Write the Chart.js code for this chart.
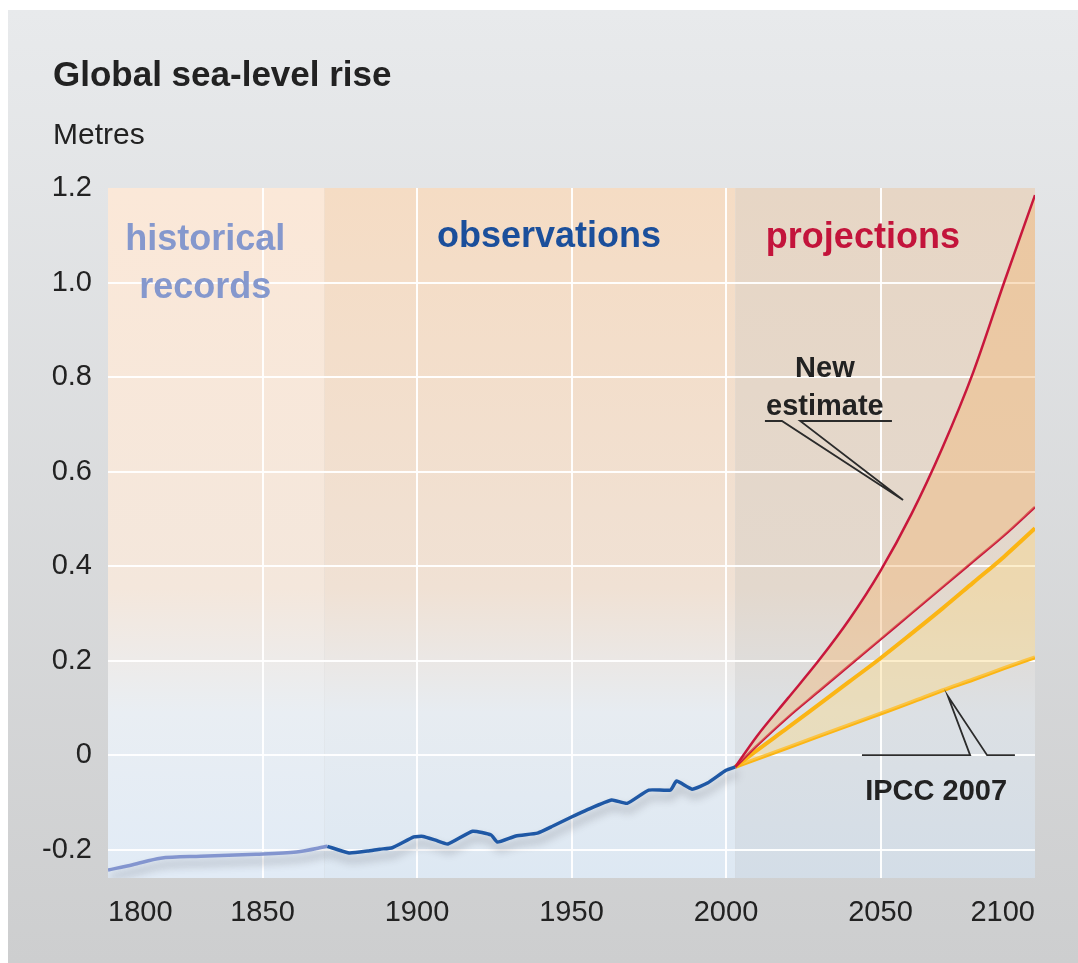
<!DOCTYPE html>
<html><head><meta charset="utf-8">
<script src="https://cdn.jsdelivr.net/npm/chart.js@4.4.1/dist/chart.umd.min.js"></script>
<style>html,body{margin:0;padding:0;background:#fff;} #wrap{width:1078px;height:963px;position:relative;}</style>
</head><body><div id="wrap"><canvas id="c"></canvas></div>
<script>
// ---- data ----
const histYears = [1800, 1808, 1817, 1830, 1848, 1861, 1871];
const histValues = [-0.243, -0.232, -0.218, -0.214, -0.210, -0.205, -0.193];
const obsYears = [1871, 1878, 1884, 1888, 1892, 1899, 1902, 1906, 1910, 1918, 1924, 1926, 1932, 1939, 1944, 1950, 1955, 1963, 1968, 1975, 1982, 1984, 1989, 1994, 2000, 2003];
const obsValues = [-0.193, -0.207, -0.203, -0.199, -0.196, -0.173, -0.172, -0.180, -0.188, -0.161, -0.169, -0.184, -0.171, -0.165, -0.150, -0.131, -0.116, -0.095, -0.102, -0.074, -0.074, -0.055, -0.072, -0.059, -0.032, -0.025];
const projYears = [2003, 2010, 2020, 2030, 2040, 2050, 2060, 2070, 2080, 2090, 2100];
const newEstimateHigh = [-0.025, 0.04, 0.12, 0.2, 0.288, 0.39, 0.51, 0.65, 0.81, 1.0, 1.185];
const newEstimateLow = [-0.025, 0.02, 0.08, 0.135, 0.19, 0.245, 0.3, 0.355, 0.41, 0.465, 0.525];
const ipccHigh = [-0.025, 0.01, 0.058, 0.107, 0.156, 0.205, 0.257, 0.31, 0.365, 0.42, 0.48];
const ipccLow = [-0.025, -0.008, 0.016, 0.04, 0.064, 0.088, 0.112, 0.137, 0.16, 0.184, 0.207];
const xTickYears = [1800, 1850, 1900, 1950, 2000, 2050, 2100];
const yTickValues = [-0.2, 0, 0.2, 0.4, 0.6, 0.8, 1.0, 1.2];
const yTickLabels = ['-0.2', '0', '0.2', '0.4', '0.6', '0.8', '1.0', '1.2'];
const periodBounds = [1800, 1870, 2003, 2100];
const periodNames = [['historical', 'records'], ['observations'], ['projections']];
const newEstimateLabel = ['New', 'estimate'];
const ipccLabel = ['IPCC 2007'];
const titleText = 'Global sea-level rise';
const unitText = 'Metres';

// ---- styling / layout (not data) ----
const FONT = '"Liberation Sans", Arial, Helvetica, sans-serif';
const periodStyle = [
  {color: '#8598cd', x: 1831.5, y: 1.069},
  {color: '#1b4f9b', x: 1942.7, y: 1.075},
  {color: '#c3143b', x: 2044.3, y: 1.073}
];
const periodGradients = [
  ['#fbe8d8', '#f4e7dc', '#e9eef3', '#e1ebf6'],
  ['#f5dcc4', '#f0e1d4', '#e7ecf1', '#dde8f3'],
  ['#e7d6c5', '#e3d8cd', '#dce0e4', '#d3dde7']
];
const callouts = [
  {text: newEstimateLabel, tx: 2032, ty: 0.80, gap: 38,
   under: [[2012.6, 0.707], [2018.1, 0.707]], under2: [[2024, 0.707], [2053.7, 0.707]], tip: [2057.3, 0.54]},
  {text: ipccLabel, tx: 2068, ty: -0.095, gap: 0,
   under: [[2044, 0], [2079, 0]], under2: [[2084.5, 0], [2093.5, 0]], tip: [2071.8, 0.125]}
];

const px = (c, X, Y) => [c.scales.x.getPixelForValue(X), c.scales.y.getPixelForValue(Y)];

const bgPlugin = {
  id: 'bg',
  beforeDraw(chart) {
    const {ctx, width, height, chartArea: a, scales: {x}} = chart;
    ctx.save();
    ctx.fillStyle = '#ffffff';
    ctx.fillRect(0, 0, width, height);
    const g = ctx.createLinearGradient(0, 10, 0, height);
    g.addColorStop(0, '#e8eaec');
    g.addColorStop(1, '#cdcecf');
    ctx.fillStyle = g;
    ctx.fillRect(8, 10, width - 8, height - 10);
    for (let i = 0; i < 3; i++) {
      const x0 = x.getPixelForValue(periodBounds[i]);
      const x1 = x.getPixelForValue(periodBounds[i + 1]);
      const gr = ctx.createLinearGradient(0, a.top, 0, a.bottom);
      const cs = periodGradients[i];
      gr.addColorStop(0, cs[0]);
      gr.addColorStop(0.58, cs[1]);
      gr.addColorStop(0.76, cs[2]);
      gr.addColorStop(1, cs[3]);
      ctx.fillStyle = gr;
      ctx.fillRect(x0, a.top, x1 - x0, a.bottom - a.top);
    }
    // title and unit
    ctx.fillStyle = '#222';
    ctx.textAlign = 'left';
    ctx.textBaseline = 'alphabetic';
    ctx.font = 'bold 35px ' + FONT;
    ctx.fillText(titleText, 53, 86);
    ctx.font = '30px ' + FONT;
    ctx.fillText(unitText, 53, 144);
    ctx.restore();
  },
  beforeDatasetsDraw(chart) {
    const ctx = chart.ctx;
    ctx.save();
    ctx.font = 'bold 36px ' + FONT;
    ctx.textAlign = 'center';
    ctx.textBaseline = 'alphabetic';
    periodNames.forEach((lines, i) => {
      const st = periodStyle[i];
      const [X, Y] = px(chart, st.x, st.y);
      ctx.fillStyle = st.color;
      lines.forEach((t, k) => ctx.fillText(t, X, Y + k * 48));
    });
    ctx.restore();
  },
  afterDatasetsDraw(chart) {
    const ctx = chart.ctx;
    ctx.save();
    ctx.strokeStyle = '#2b2b2b';
    ctx.lineWidth = 1.8;
    callouts.forEach(c => {
      const a0 = px(chart, ...c.under[0]), a1 = px(chart, ...c.under[1]);
      const b0 = px(chart, ...c.under2[0]), b1 = px(chart, ...c.under2[1]);
      const t = px(chart, ...c.tip);
      ctx.beginPath();
      ctx.moveTo(...a0); ctx.lineTo(...a1); ctx.lineTo(...t); ctx.lineTo(...b0); ctx.lineTo(...b1);
      ctx.stroke();
      ctx.font = 'bold 29px ' + FONT;
      ctx.fillStyle = '#222';
      ctx.textAlign = 'center';
      const [X, Y] = px(chart, c.tx, c.ty);
      c.text.forEach((s, k) => ctx.fillText(s, X, Y + k * c.gap));
    });
    ctx.restore();
  }
};

const shadowSet = new Set([0, 1]);
const shadowPlugin = {
  id: 'shadow',
  beforeDatasetDraw(chart, args) {
    if (!shadowSet.has(args.index)) return;
    const ctx = chart.ctx;
    ctx.save();
    ctx.shadowColor = 'rgba(60,60,70,0.4)';
    ctx.shadowBlur = 8;
    ctx.shadowOffsetX = 2;
    ctx.shadowOffsetY = 7;
  },
  afterDatasetDraw(chart, args) {
    if (!shadowSet.has(args.index)) return;
    chart.ctx.restore();
  }
};

const pts = (xs, ys) => xs.map((v, i) => ({x: v, y: ys[i]}));

new Chart(document.getElementById('c'), {
  type: 'line',
  data: {
    datasets: [
      {label: 'Observations', data: pts(obsYears, obsValues), borderColor: '#1f58a5', borderWidth: 3.5, tension: 0.15, fill: false},
      {label: 'Historical records', data: pts(histYears, histValues), borderColor: '#8395cf', borderWidth: 3.5, tension: 0.3, fill: false},
      {label: 'New estimate (high)', data: pts(projYears, newEstimateHigh), borderColor: '#c8173c', borderWidth: 2.5, cubicInterpolationMode: 'monotone', fill: '+1', backgroundColor: 'rgba(243,180,115,0.42)'},
      {label: 'New estimate (low)', data: pts(projYears, newEstimateLow), borderColor: '#c8173c', borderWidth: 2.5, cubicInterpolationMode: 'monotone', fill: false},
      {label: 'IPCC 2007 (high)', data: pts(projYears, ipccHigh), borderColor: '#fbb514', borderWidth: 4, cubicInterpolationMode: 'monotone', fill: '+1', backgroundColor: 'rgba(250,218,135,0.42)'},
      {label: 'IPCC 2007 (low)', data: pts(projYears, ipccLow), borderColor: '#fbb514', borderWidth: 4, cubicInterpolationMode: 'monotone', fill: false}
    ]
  },
  options: {
    responsive: true,
    maintainAspectRatio: false,
    animation: false,
    events: [],
    elements: {point: {radius: 0}},
    layout: {padding: {left: 20, right: 43, top: 188, bottom: 0}},
    plugins: {
      legend: {display: false},
      tooltip: {enabled: false}
    },
    scales: {
      x: {
        type: 'linear', min: 1800, max: 2100,
        afterBuildTicks(s) { s.ticks = xTickYears.map(v => ({value: v})); },
        afterFit(s) { s.height = 85; },
        ticks: {autoSkip: false, maxRotation: 0, align: 'inner', padding: 18, color: '#222',
          font: {family: FONT, size: 29}, callback: v => String(v)},
        grid: {drawTicks: false, lineWidth: 2,
          color: c => (c.tick && (c.tick.value === 1800 || c.tick.value === 2100)) ? 'rgba(0,0,0,0)' : 'rgba(255,255,255,0.95)'},
        border: {display: false}
      },
      y: {
        type: 'linear', min: -0.26, max: 1.2,
        afterBuildTicks(s) { s.ticks = yTickValues.map(v => ({value: v})); },
        afterFit(s) { s.width = 88; },
        ticks: {padding: 16, color: '#222', font: {family: FONT, size: 29},
          callback: v => yTickLabels[yTickValues.indexOf(v)]},
        grid: {drawTicks: false, lineWidth: 2,
          color: c => (c.tick && c.tick.value === 1.2) ? 'rgba(0,0,0,0)' : 'rgba(255,255,255,0.95)'},
        border: {display: false}
      }
    }
  },
  plugins: [bgPlugin, shadowPlugin]
});
</script>
</body></html>
